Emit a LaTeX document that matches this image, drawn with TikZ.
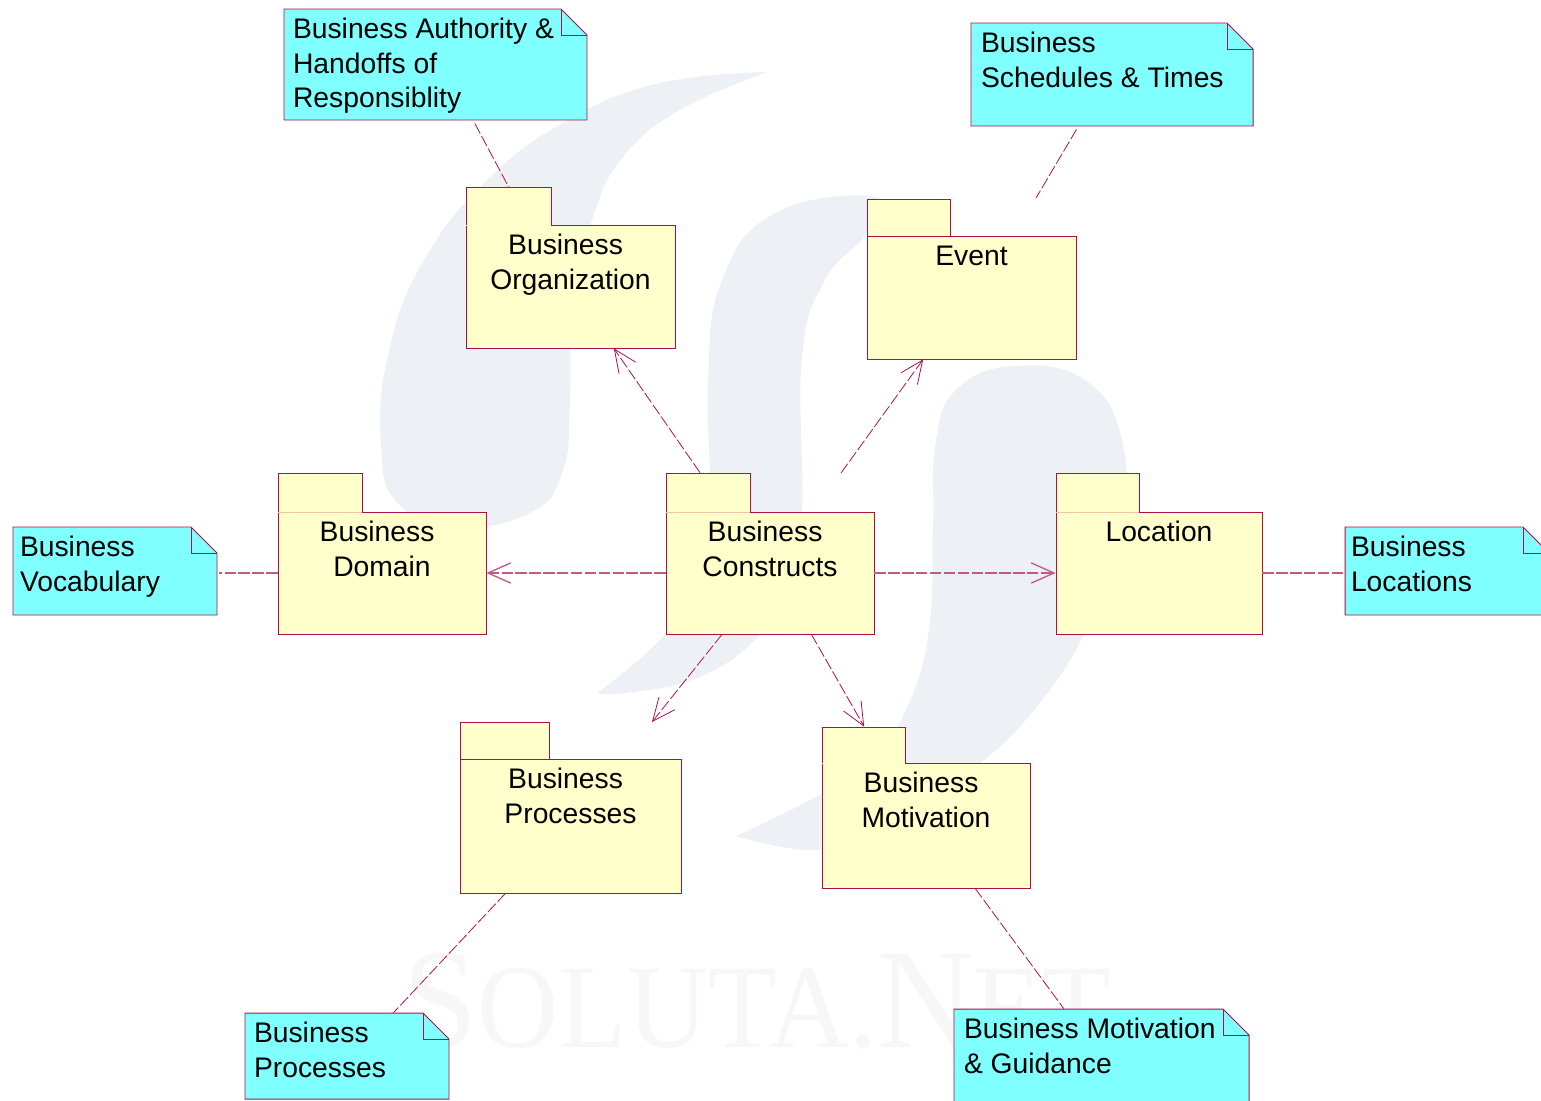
\documentclass[tikz,border=0pt]{standalone}
\usepackage{graphicx}
\usepackage{fontspec}
\setmainfont{Liberation Sans}
\newfontfamily\markfont{Liberation Serif}
\usetikzlibrary{arrows.meta}

\definecolor{linecolor}{HTML}{AE0F4B}
\definecolor{palecolor}{HTML}{EFC6A6}
\definecolor{packagecolor}{HTML}{FFFFCB}
\definecolor{notecolor}{HTML}{80FFFF}
\definecolor{washcolor}{HTML}{EDF1F6}
\definecolor{markcolor}{HTML}{F7F7F7}

\newlength\pxlen
\setlength\pxlen{0.02cm}

\tikzset{
	>={Straight Barb[length=13pt,width=11.5pt]},
	outline/.style={draw=linecolor, line width=0.55pt, line join=miter},
	boxtext/.style={inner sep=0pt, font=\fontsize{16.1}{19.5}\selectfont},
	tabnode/.style={inner sep=0pt},
	tabdark/.style={linecolor, line width=0.55pt},
	tabpale/.style={palecolor, line width=0.5pt},
	tabnone/.style={packagecolor, line width=0.55pt},
	dep/.style={linecolor, line width=0.45pt, dash pattern=on 6.5pt off 1.6pt},
	flat/.style={dep, line width=0.75pt, draw=linecolor!70, dash pattern=on 6.5pt off 1.4pt},
	wash/.style={fill=washcolor, smooth, tension=0.75},
}

% name, left, tab top, tab right, body top, right, bottom, tab line, text
\newcommand{\pkgbox}[9]{
	\draw[outline, fill=packagecolor] (#2,#3) -- (#4,#3) -- (#4,#5) -- (#6,#5) -- (#6,#7) -- (#2,#7) -- cycle;
	\draw[#8] (#2,#5) -- (#4,#5);
	\node[tabnode, minimum width={(#4-#2)*0.02cm}, minimum height={(#5-#3)*0.02cm}] (#1Tab) at ({(#2+#4)/2},{(#3+#5)/2}) {};
	\node[boxtext] (#1) at ({(#2+#6)/2},{(#5+#7)/2})
		{\parbox[c][\dimexpr\pxlen*\numexpr #7-#5\relax\relax][t]{\dimexpr\pxlen*\numexpr #6-#2\relax\relax}{\centering\rule{0pt}{17pt}#9}};
}

% name, left, top, right, bottom, padding, text
\newcommand{\notebox}[7]{
	\draw[outline, fill=notecolor] (#2,#3) -- ({#4-26},#3) -- (#4,{#3+26}) -- (#4,#5) -- (#2,#5) -- cycle;
	\draw[outline] ({#4-26},#3) -- ({#4-26},{#3+26}) -- (#4,{#3+26});
	\node[boxtext, inner xsep={#6*0.02cm}] (#1) at ({(#2+#4)/2},{(#3+#5)/2})
		{\parbox[c][\dimexpr\pxlen*\numexpr #5-#3\relax\relax][t]{\dimexpr\pxlen*\numexpr #4-#2-2*#6\relax\relax}{\raggedright\rule{0pt}{17pt}#7}};
}

\begin{document}
\begin{tikzpicture}[x=0.02cm, y=-0.02cm]
	\useasboundingbox (0,0) rectangle (1541,1100);

	% watermark
	\fill[wash] plot coordinates {(767,72) (660,83) (570,119) (487,180) (420,267) (387,360) (381,443) (395,500) (450,527) (530,513) (563,470) (570,400) (573,300) (593,217) (623,157) (680,110) (767,72)};
	\fill[wash] plot coordinates {(597,693) (665,634) (700,570) (710,500) (708,379) (722,280) (775,213) (875,197) (868,232) (825,280) (802,358) (802,514) (790,590) (755,640) (697,678) (626,693) (597,693)};
	\fill[wash] plot coordinates {(736,836) (823,793) (875,755) (908,705) (929,630) (933,527) (936,440) (958,388) (1015,366) (1085,380) (1122,440) (1120,530) (1083,636) (1029,716) (975,768) (904,825) (823,850) (736,836)};
	\node[markcolor, anchor=base west, inner sep=0pt, font=\markfont] (solutaMark) at (403,1047)
		{\scalebox{0.94}[1]{\fontsize{81}{81}\selectfont S\fontsize{68}{68}\selectfont OLUTA.\fontsize{81}{81}\selectfont N\fontsize{68}{68}\selectfont ET}};

	% packages
	\pkgbox{organization}{466}{187}{551}{225}{675}{348}{tabnone}{Business\kern.35em\\Organization}
	\pkgbox{event}{867}{199}{950}{236}{1076}{359}{tabdark}{Event}
	\pkgbox{domain}{278}{473}{362}{512}{486}{634}{tabpale}{Business\kern.35em\\Domain}
	\pkgbox{constructs}{666}{473}{750}{512}{874}{634}{tabpale}{Business\kern.35em\\Constructs}
	\pkgbox{location}{1056}{473}{1139}{512}{1262}{634}{tabpale}{Location}
	\pkgbox{processes}{460}{722}{549}{759}{681}{893}{tabdark}{Business\kern.35em\\Processes}
	\pkgbox{motivation}{822}{727}{905}{763}{1030}{888}{tabnone}{Business\kern.35em\\Motivation}

	% notes
	\notebox{authorityNote}{284}{9}{587}{120}{9}{Business Authority \&\\Handoffs of\\Responsiblity}
	\notebox{schedulesNote}{971}{23}{1253}{126}{10}{Business\\Schedules \& Times}
	\notebox{vocabularyNote}{13}{527}{217}{615}{7}{Business\\Vocabulary}
	\notebox{locationsNote}{1345}{527}{1549}{615}{6}{Business\\Locations}
	\notebox{processesNote}{245}{1013}{449}{1099}{9}{Business\\Processes}
	\notebox{motivationNote}{954}{1009}{1249}{1112}{10}{Business Motivation\\\& Guidance}

	\coordinate (eventStart) at (841,473);
	\coordinate (eventFree) at (1036,198);
	\coordinate (processesTip) at (652,722);

	\draw[->, dep] (constructsTab.112) to (organization.-55.4);
	\draw[->, dep] (eventStart) to (event.-128.3);
	\draw[->, flat] (constructs.west) to (domain.east);
	\draw[->, flat] (constructs.east) to (location.west);
	\draw[->, dep] (constructs.-128.2) to (processesTip);
	\draw[->, dep] (constructs.-56.7) to (motivationTab.88);

	\draw[dep, shorten <=2pt] (authorityNote.-56) to (organizationTab.north);
	\draw[dep, shorten <=2pt] (schedulesNote.-123.4) to (eventFree);
	\draw[flat, shorten >=1pt] (domain.west) to (domain.west -| vocabularyNote.east);
	\draw[flat] (location.east) to (location.east -| locationsNote.west);
	\draw[dep] (processes.-134.4) to (processesNote.43);
	\draw[dep] (motivation.-52.5) to (motivationNote.126.6);
\end{tikzpicture}
\end{document}
